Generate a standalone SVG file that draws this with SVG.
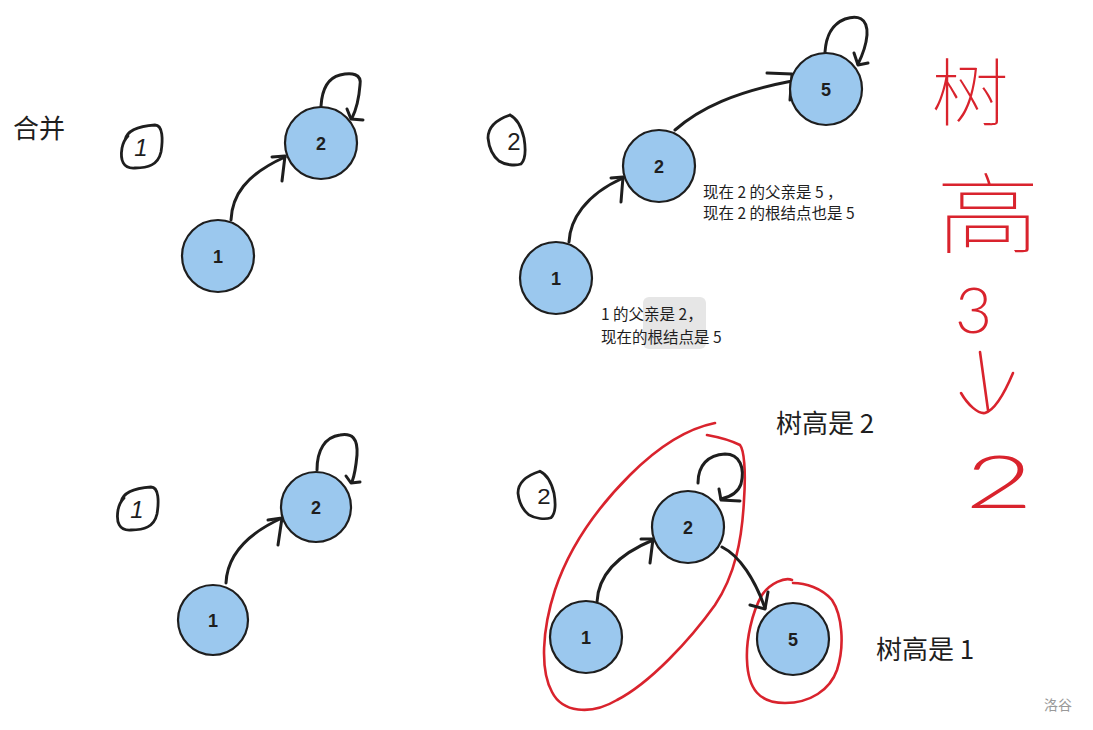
<svg xmlns="http://www.w3.org/2000/svg" width="1093" height="730" viewBox="0 0 1093 730">
<style>
.node circle{fill:#9bc8ee;stroke:#1e1e1e;stroke-width:2.2}
.node text{font-family:"Liberation Sans",Arial,sans-serif;font-weight:bold;font-size:18px;fill:#1e1e1e;text-anchor:middle}
.edge{fill:none;stroke:#1e1e1e;stroke-width:3;stroke-linecap:round;stroke-linejoin:round}
.hand{fill:none;stroke:#1e1e1e;stroke-width:2.8;stroke-linecap:round;stroke-linejoin:round}
.handnum{font-family:"Liberation Sans",Arial,sans-serif;font-size:24px;fill:#1e1e1e;text-anchor:middle}
.red{fill:none;stroke:#d9232d;stroke-width:2.6;stroke-linecap:round;stroke-linejoin:round}
.redtxt{font-family:"Noto Sans CJK SC","Noto Sans",sans-serif;font-weight:100;fill:#d9232d}
.reddig{font-family:Lato,"Liberation Sans",sans-serif;font-weight:300;fill:#d9232d}
.cjk{font-family:"Noto Sans CJK SC","Noto Sans",sans-serif;fill:#1e1e1e}
.big{font-size:26px}
.small{font-size:15.5px}
</style>
<rect width="1093" height="730" fill="#ffffff"/>

<!-- labels -->
<text class="cjk big" x="13" y="138">合并</text>
<text class="cjk big" x="776" y="433">树高是 2</text>
<text class="cjk big" x="876" y="659">树高是 1</text>
<text class="cjk small" x="703" y="198">现在 2 的父亲是 5 ，</text>
<text class="cjk small" x="703" y="219">现在 2 的根结点也是 5</text>
<rect x="643" y="297" width="63" height="52" rx="6" fill="#e6e6e6"/>
<text class="cjk small" x="601" y="320">1 的父亲是 2，</text>
<text class="cjk small" x="601" y="343">现在的根结点是 5</text>
<text x="1044" y="710" style="font-family:'Noto Sans CJK SC',sans-serif;font-size:14px;fill:#999">洛谷</text>

<!-- hand-drawn step marks -->
<g id="mark1a">
<path class="hand" d="M125,140 C127,130 140,126 155,125 C163,125 163,140 161,152 C158,165 148,168 135,168 C123,169 120,160 122,148 C123,143 124,140 128,136"/>
<text class="handnum" x="141" y="156" font-style="italic">1</text>
</g>
<g id="mark1b" transform="translate(-4,362)">
<path class="hand" d="M125,140 C127,130 140,126 155,125 C163,125 163,140 161,152 C158,165 148,168 135,168 C123,169 120,160 122,148 C123,143 124,140 128,136"/>
<text class="handnum" x="141" y="156" font-style="italic">1</text>
</g>
<g id="mark2a">
<path class="hand" d="M510,115 C516,118 521,125 524,138 C526,150 525,160 521,164 C515,166 505,165 499,161 C493,156 489,148 488,138 C488,128 495,120 510,115"/>
<text class="handnum" x="514" y="150">2</text>
</g>
<g id="mark2b" transform="translate(30,362) scale(1,0.95)">
<path class="hand" d="M510,115 C516,118 521,125 524,138 C526,150 525,160 521,164 C515,166 505,165 499,161 C493,156 489,148 488,138 C488,128 495,120 510,115"/>
<text class="handnum" x="514" y="150">2</text>
</g>

<!-- red annotation -->
<g id="redNote">
<text class="redtxt" x="931" y="120" font-size="74" textLength="78" lengthAdjust="spacingAndGlyphs">树</text>
<text class="redtxt" x="936" y="246" font-size="88" textLength="104" lengthAdjust="spacingAndGlyphs">高</text>
<text class="reddig" x="955" y="333" font-size="64">3</text>
<path class="red" d="M980,352 C983,375 986,395 988,410 M961,393 C968,405 978,414 985,413 C995,410 1005,392 1013,373"/>
<text class="reddig" x="965" y="508" font-size="72" textLength="68" lengthAdjust="spacingAndGlyphs">2</text>
</g>

<!-- red loops -->
<g id="redLoops">
<path class="red" d="M715,423 C690,428 660,445 630,475 C600,505 570,545 555,590 C542,630 540,670 552,692 C562,712 590,716 617,700 C650,683 690,640 715,605 C735,575 742,540 744,500 C746,470 744,450 740,445 C730,440 718,437 707,435"/>
<path class="red" d="M792,580 C785,577 770,583 762,595 C752,612 746,640 747,660 C748,690 760,703 785,703 C810,703 830,690 837,670 C845,645 842,615 832,600 C822,588 805,583 793,583"/>
</g>

<!-- connectors -->
<g id="connectors">
<path class="edge" d="M231,220 C232,196 245,175 285,157"/>
<path class="edge" d="M272,157 L285,156 L282,181"/>
<path class="edge" d="M321,106 C322,90 328,78 340,75 C352,72 362,74 360,85 C359,98 357,108 352,118"/>
<path class="edge" d="M347,109 L351,119 L363,120"/>

<path class="edge" d="M569,242 C570,220 585,195 623,178"/>
<path class="edge" d="M611,178 L623,177 L621,202"/>
<path class="edge" d="M675,130 C700,108 735,92 792,81"/>
<path class="edge" d="M767,73 L792,74 L790,100"/>
<path class="edge" d="M825,52 C826,38 830,25 845,19 C857,15 868,17 867,35 C866,47 862,56 858,64"/>
<path class="edge" d="M854,53 L858,65 L868,63"/>

<path class="edge" d="M226,583 C227,560 240,537 282,518"/>
<path class="edge" d="M268,520 L282,518 L278,545"/>
<path class="edge" d="M317,470 C317,450 325,437 340,435 C352,433 358,438 357,455 C356,466 355,474 352,482"/>
<path class="edge" d="M346,476 L351,483 L360,482"/>

<path class="edge" d="M597,602 C598,580 612,557 653,540"/>
<path class="edge" d="M641,539 L653,539 L650,563"/>
<path class="edge" d="M722,547 C740,556 755,580 765,608"/>
<path class="edge" d="M750,605 L765,609 L768,592"/>
<path class="edge" d="M698,483 C698,465 708,455 725,454 C740,454 745,468 741,484 C738,493 730,497 721,499"/>
<path class="edge" d="M719,489 L721,500 L740,501"/>
</g>

<!-- nodes -->
<g id="n1a" class="node"><circle cx="218" cy="256" r="36"/><text x="218" y="263">1</text></g>
<g id="n2a" class="node"><circle cx="321" cy="143" r="36"/><text x="321" y="150">2</text></g>
<g id="n1b" class="node"><circle cx="556" cy="278" r="36"/><text x="556" y="285">1</text></g>
<g id="n2b" class="node"><circle cx="659" cy="166" r="36"/><text x="659" y="173">2</text></g>
<g id="n5b" class="node"><circle cx="826" cy="89" r="36"/><text x="826" y="96">5</text></g>
<g id="n1c" class="node"><circle cx="213" cy="620" r="35"/><text x="213" y="627">1</text></g>
<g id="n2c" class="node"><circle cx="316" cy="507" r="35"/><text x="316" y="514">2</text></g>
<g id="n1d" class="node"><circle cx="586" cy="637" r="36"/><text x="586" y="644">1</text></g>
<g id="n2d" class="node"><circle cx="688" cy="527" r="36"/><text x="688" y="534">2</text></g>
<g id="n5d" class="node"><circle cx="793" cy="639" r="36"/><text x="793" y="646">5</text></g>
</svg>
